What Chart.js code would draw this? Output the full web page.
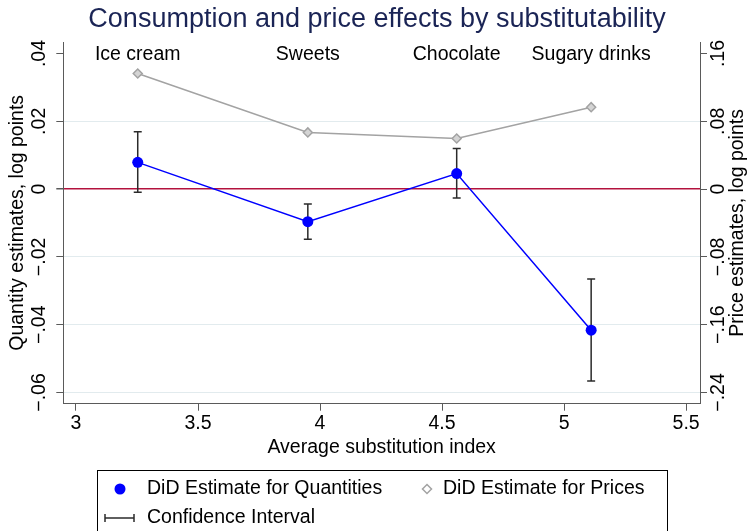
<!DOCTYPE html>
<html lang="en">
<head>
  <meta charset="UTF-8" />
  <title>Consumption and price effects by substitutability</title>
  <script src="https://cdn.jsdelivr.net/npm/chart.js"></script>
  <style>
    html, body {
      margin: 0;
      padding: 0;
      background: #ffffff;
    }
    #wrap {
      width: 754px;
      height: 531px;
    }
  </style>
</head>
<body>
  <div id="wrap"><canvas id="chart" width="754" height="531"></canvas></div>

  <script>
    // data
    const categories = ["Ice cream", "Sweets", "Chocolate", "Sugary drinks"];
    const substIndex = [3.253, 3.950, 4.560, 5.111];
    const qtyEstimate = [0.0079, -0.0096, 0.0046, -0.0416];
    const qtyCiLow = [-0.0009, -0.0148, -0.0026, -0.0566];
    const qtyCiHigh = [0.0169, -0.0044, 0.0120, -0.0265];
    const priceEstimate = [0.1364, 0.0669, 0.0598, 0.0967];

    const xTicks = [3, 3.5, 4, 4.5, 5, 5.5];
    const qtyTicks = [0.04, 0.02, 0, -0.02, -0.04, -0.06];
    const qtyTickLabels = [".04", ".02", "0", "\u2212.02", "\u2212.04", "\u2212.06"];
    const priceTicks = [0.16, 0.08, 0, -0.08, -0.16, -0.24];
    const priceTickLabels = [".16", ".08", "0", "\u2212.08", "\u2212.16", "\u2212.24"];

    const FONT = '"Liberation Sans", Arial, Helvetica, sans-serif';
    const FS = 19.5;
    const AXIS = "#5a5a5a";
    const NAVY = "rgb(26,36,85)";

    function vText(ctx, str, x, y) {
      ctx.save();
      ctx.translate(x, y);
      ctx.rotate(-Math.PI / 2);
      ctx.textAlign = "center";
      ctx.textBaseline = "middle";
      ctx.fillText(str, 0, 0);
      ctx.restore();
    }

    function diamond(ctx, x, y, r, fill, stroke) {
      ctx.beginPath();
      ctx.moveTo(x, y - r);
      ctx.lineTo(x + r, y);
      ctx.lineTo(x, y + r);
      ctx.lineTo(x - r, y);
      ctx.closePath();
      ctx.fillStyle = fill;
      ctx.fill();
      ctx.lineWidth = 1.5;
      ctx.strokeStyle = stroke;
      ctx.stroke();
    }

    const stataBits = {
      id: "stataBits",
      beforeDatasetsDraw(chart) {
        // confidence intervals
        const { ctx, scales: { x, y } } = chart;
        ctx.save();
        ctx.strokeStyle = "#2b2b2b";
        ctx.lineWidth = 1.5;
        substIndex.forEach((v, i) => {
          const px = x.getPixelForValue(v);
          const top = y.getPixelForValue(qtyCiHigh[i]);
          const bot = y.getPixelForValue(qtyCiLow[i]);
          ctx.beginPath();
          ctx.moveTo(px, top); ctx.lineTo(px, bot);
          ctx.moveTo(px - 4, top); ctx.lineTo(px + 4, top);
          ctx.moveTo(px - 4, bot); ctx.lineTo(px + 4, bot);
          ctx.stroke();
        });
        ctx.restore();
      },
      afterDraw(chart) {
        const { ctx, chartArea, scales: { x, y, y2 } } = chart;
        ctx.save();

        // title
        ctx.font = "27px " + FONT;
        ctx.fillStyle = NAVY;
        ctx.textAlign = "center";
        ctx.textBaseline = "middle";
        ctx.fillText("Consumption and price effects by substitutability", 377, 20);

        // vertical tick labels
        ctx.font = FS + "px " + FONT;
        ctx.fillStyle = "#000";
        qtyTicks.forEach((v, i) => vText(ctx, qtyTickLabels[i], 40, y.getPixelForValue(v)));
        priceTicks.forEach((v, i) => vText(ctx, priceTickLabels[i], 719, y2.getPixelForValue(v)));

        // axis titles
        const midY = (chartArea.top + chartArea.bottom) / 2;
        vText(ctx, "Quantity estimates, log points", 18, midY);
        vText(ctx, "Price estimates, log points", 738, midY);

        // category labels above the points
        ctx.textAlign = "center";
        ctx.textBaseline = "middle";
        categories.forEach((c, i) => ctx.fillText(c, x.getPixelForValue(substIndex[i]), 55));

        // legend
        ctx.lineWidth = 1;
        ctx.strokeStyle = "#000";
        ctx.strokeRect(97.5, 470.5, 570, 70);

        ctx.beginPath();
        ctx.arc(120, 489, 5.5, 0, Math.PI * 2);
        ctx.fillStyle = "#0000ff";
        ctx.fill();
        diamond(ctx, 427, 489, 4.5, "#ffffff", "#a3a3a3");

        ctx.strokeStyle = "#2b2b2b";
        ctx.lineWidth = 1.5;
        ctx.beginPath();
        ctx.moveTo(105, 518); ctx.lineTo(134, 518);
        ctx.moveTo(105, 514); ctx.lineTo(105, 522);
        ctx.moveTo(134, 514); ctx.lineTo(134, 522);
        ctx.stroke();

        ctx.fillStyle = "#000";
        ctx.textAlign = "left";
        ctx.fillText("DiD Estimate for Quantities", 147, 489);
        ctx.fillText("DiD Estimate for Prices", 443, 489);
        ctx.fillText("Confidence Interval", 147, 518);

        ctx.restore();
      }
    };

    new Chart(document.getElementById("chart"), {
      type: "scatter",
      data: {
        datasets: [
          {
            label: "DiD Estimate for Quantities",
            data: substIndex.map((v, i) => ({ x: v, y: qtyEstimate[i] })),
            yAxisID: "y",
            showLine: true,
            borderColor: "#0000ff",
            backgroundColor: "#0000ff",
            borderWidth: 1.5,
            pointRadius: 5.5,
            pointBorderWidth: 0
          },
          {
            label: "DiD Estimate for Prices",
            data: substIndex.map((v, i) => ({ x: v, y: priceEstimate[i] })),
            yAxisID: "y2",
            showLine: true,
            borderColor: "#a3a3a3",
            borderWidth: 1.5,
            pointStyle: "rectRot",
            pointRadius: 4.5,
            pointBackgroundColor: "#d4d4d4",
            pointBorderColor: "#a3a3a3",
            pointBorderWidth: 1.5
          }
        ]
      },
      options: {
        responsive: false,
        animation: false,
        devicePixelRatio: 1,
        layout: { padding: { top: 42, left: 0, right: 0, bottom: 0 } },
        plugins: {
          legend: { display: false },
          tooltip: { enabled: false }
        },
        scales: {
          x: {
            type: "linear",
            position: "bottom",
            min: 2.948,
            max: 5.557,
            afterBuildTicks: s => { s.ticks = xTicks.map(v => ({ value: v })); },
            afterFit: s => { s.height = 127.3; },
            ticks: {
              callback: v => String(v),
              color: "#000",
              font: { family: FONT, size: FS },
              padding: 1,
              maxRotation: 0
            },
            grid: { drawOnChartArea: false, tickLength: 7, tickColor: AXIS },
            border: { color: AXIS, width: 1 },
            title: {
              display: true,
              text: "Average substitution index",
              color: "#000",
              font: { family: FONT, size: FS },
              padding: { top: 0, bottom: 72 }
            }
          },
          y: {
            position: "left",
            min: -0.0633,
            max: 0.0434,
            afterBuildTicks: s => { s.ticks = qtyTicks.map(v => ({ value: v })); },
            afterFit: s => { s.width = 63.3; },
            ticks: { display: false },
            grid: {
              color: c => c.tick.value === 0 ? "#b3123e" : (c.tick.value > 0.035 ? "rgba(0,0,0,0)" : "#e2ebee"),
              lineWidth: c => c.tick.value === 0 ? 1.5 : 1,
              tickLength: 7,
              tickColor: AXIS
            },
            border: { color: AXIS, width: 1 }
          },
          y2: {
            position: "right",
            min: -0.2532,
            max: 0.1736,
            afterBuildTicks: s => { s.ticks = priceTicks.map(v => ({ value: v })); },
            afterFit: s => { s.width = 54; },
            ticks: { display: false },
            grid: { drawOnChartArea: false, tickLength: 7, tickColor: AXIS },
            border: { color: AXIS, width: 1 }
          }
        }
      },
      plugins: [stataBits]
    });
  </script>
</body>
</html>
